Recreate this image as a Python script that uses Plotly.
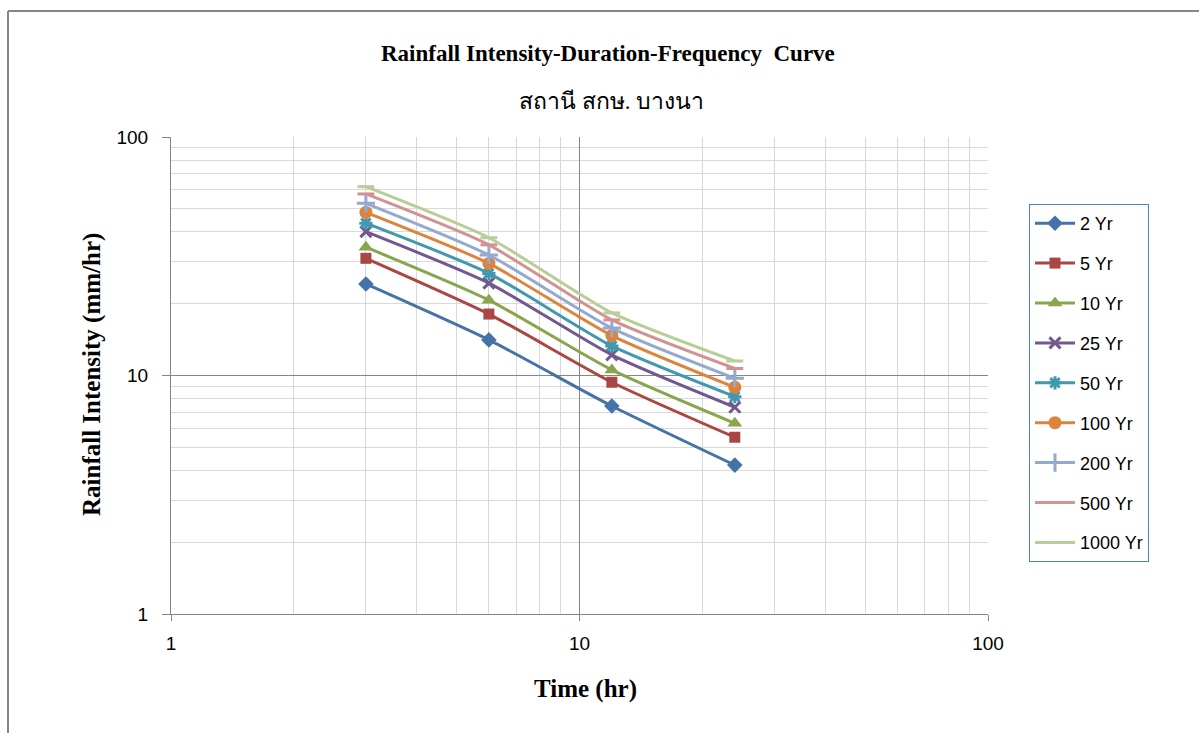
import plotly.graph_objects as go

durations = [3, 6, 12, 24]
series_names = ["2 Yr", "5 Yr", "10 Yr", "25 Yr", "50 Yr", "100 Yr", "200 Yr", "500 Yr", "1000 Yr"]
i_2 = [24.2, 14.1, 7.45, 4.21]
i_5 = [31.0, 18.1, 9.37, 5.51]
i_10 = [34.5, 20.7, 10.55, 6.30]
i_25 = [40.1, 24.4, 12.2, 7.36]
i_50 = [43.5, 26.8, 13.3, 8.15]
i_100 = [48.3, 29.5, 14.7, 8.92]
i_200 = [52.7, 32.0, 15.8, 9.73]
i_500 = [57.7, 35.3, 17.1, 10.7]
i_1000 = [61.9, 37.8, 18.3, 11.5]
values = [i_2, i_5, i_10, i_25, i_50, i_100, i_200, i_500, i_1000]

colors = ["#4572A7", "#AA4643", "#89A54E", "#71588F", "#4198AF",
          "#DB843D", "#93A9CF", "#D19392", "#B9CD96"]
symbols = ["diamond", "square", "triangle-up", "x-thin-open", "asterisk-open",
           "circle", "cross-thin-open", "line-ew-open", "line-ew-open"]
msizes = [12, 11, 13, 11, 11, 13, 13, 12, 12]

fig = go.Figure()
for k, (name, vals) in enumerate(zip(series_names, values)):
    open_sym = symbols[k].endswith("open")
    fig.add_trace(go.Scatter(
        x=durations, y=vals, name=name, mode="lines+markers",
        legendgroup=name,
        line=dict(color=colors[k], width=3, shape="spline", smoothing=0.6),
        marker=dict(symbol=symbols[k], size=msizes[k], color=colors[k],
                    line=dict(color=colors[k], width=3 if open_sym else 0)),
    ))

minor_vals = [2, 3, 4, 5, 6, 7, 8, 9, 20, 30, 40, 50, 60, 70, 80, 90]

fig.update_xaxes(
    type="log", range=[0, 2], tickvals=[1, 10, 100], ticktext=["1", "10", "100"],
    showline=True, linecolor="#868686", linewidth=1,
    ticks="outside", ticklen=6, tickcolor="#868686", ticklabelstandoff=6,
    showgrid=True, gridcolor="#868686", gridwidth=1,
    minor=dict(tickvals=minor_vals, showgrid=True, gridcolor="#D9D9D9", gridwidth=1, ticks=""),
    tickfont=dict(family="Liberation Sans", size=19, color="#000000"),
    zeroline=False, mirror=False,
)
fig.update_yaxes(
    type="log", range=[0, 2], tickvals=[1, 10, 100], ticktext=["1", "10", "100"],
    showline=True, linecolor="#868686", linewidth=1,
    ticks="outside", ticklen=8, tickcolor="#868686", ticklabelstandoff=10,
    showgrid=True, gridcolor="#868686", gridwidth=1,
    minor=dict(tickvals=minor_vals, showgrid=True, gridcolor="#D9D9D9", gridwidth=1, ticks=""),
    tickfont=dict(family="Liberation Sans", size=19, color="#000000"),
    zeroline=False,
)

def px_x(p):
    return (p - 171) / 817

def px_y(p):
    return (614 - p) / 477

fig.update_layout(
    width=1199, height=733,
    margin=dict(l=171, r=211, t=137, b=119),
    paper_bgcolor="white", plot_bgcolor="white",
    showlegend=True,
    legend=dict(
        x=px_x(1029), y=px_y(204), xanchor="left", yanchor="top",
        bordercolor="#4F81BD", borderwidth=1, bgcolor="white",
        font=dict(family="Liberation Sans", size=18, color="#000000"),
        tracegroupgap=13.5, itemwidth=40,
    ),
    annotations=[
        dict(text="<b>Rainfall Intensity-Duration-Frequency  Curve</b>", xref="paper", yref="paper",
             x=px_x(608), y=px_y(54), xanchor="center", yanchor="middle", showarrow=False,
             font=dict(family="Liberation Serif", size=23, color="#000000")),
        dict(text="สถานี สกษ. บางนา", xref="paper", yref="paper",
             x=px_x(611), y=px_y(101), xanchor="center", yanchor="middle", showarrow=False,
             font=dict(family="Liberation Serif, serif", size=23, color="#000000")),
        dict(text="<b>Time (hr)</b>", xref="paper", yref="paper",
             x=px_x(585), y=px_y(689), xanchor="center", yanchor="middle", showarrow=False,
             font=dict(family="Liberation Serif", size=25, color="#000000")),
        dict(text="<b>Rainfall Intensity (mm/hr)</b>", xref="paper", yref="paper",
             x=px_x(92), y=px_y(375), xanchor="center", yanchor="middle", showarrow=False,
             textangle=-90,
             font=dict(family="Liberation Serif", size=25, color="#000000")),
    ],
    shapes=[
        dict(type="line", xref="paper", yref="paper",
             x0=px_x(8), y0=px_y(11), x1=px_x(1210), y1=px_y(11),
             line=dict(color="#868686", width=2)),
        dict(type="line", xref="paper", yref="paper",
             x0=px_x(8), y0=px_y(11), x1=px_x(8), y1=px_y(745),
             line=dict(color="#868686", width=2)),
    ],
)

fig.write_html("out.html")
